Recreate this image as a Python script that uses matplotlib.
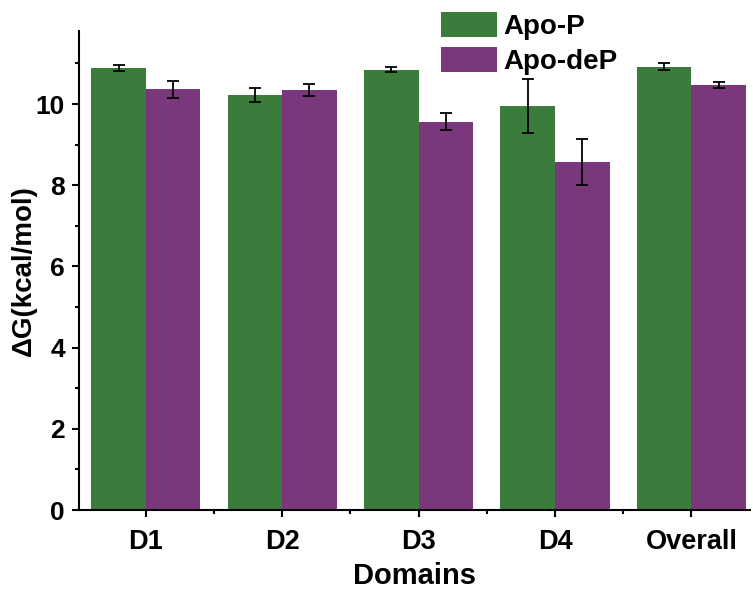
import matplotlib
matplotlib.use("Agg")
import matplotlib.pyplot as plt
import numpy as np
from matplotlib.ticker import MultipleLocator

plt.rcParams['font.family'] = ['Liberation Sans', 'DejaVu Sans']
plt.rcParams['font.weight'] = 'bold'

domains = ["D1", "D2", "D3", "D4", "Overall"]
apo_p = [10.89, 10.23, 10.85, 9.95, 10.92]
apo_p_err = [0.07, 0.17, 0.065, 0.66, 0.08]
apo_dep = [10.36, 10.34, 9.57, 8.57, 10.47]
apo_dep_err = [0.21, 0.15, 0.20, 0.57, 0.065]

green = "#3b7b3b"
purple = "#7a377b"

fig = plt.figure(figsize=(7.53, 5.89), dpi=100)
ax = fig.add_axes([79/753, 1-510/589, (750-79)/753, (510-31)/589])

x = np.arange(len(domains))
w = 0.4
err_kw = dict(ecolor="black", elinewidth=1.3, capsize=4, capthick=1.3)
ax.bar(x - w/2, apo_p, w, yerr=apo_p_err, color=green, label="Apo-P", error_kw=err_kw)
ax.bar(x + w/2, apo_dep, w, yerr=apo_dep_err, color=purple, label="Apo-deP", error_kw=err_kw)

ax.set_xlim(-0.49, 4.43)
ax.set_ylim(0, 11.8)
ax.set_xticks(x)
ax.set_xticklabels(domains)
ax.xaxis.set_minor_locator(MultipleLocator(1, offset=0.5))
ax.yaxis.set_major_locator(MultipleLocator(2))
ax.yaxis.set_minor_locator(MultipleLocator(1))
ax.tick_params(which="major", length=5, width=1.5)
ax.tick_params(axis="x", which="major", pad=9, labelsize=19.5)
ax.tick_params(axis="y", which="major", pad=5, labelsize=19)
ax.tick_params(which="minor", length=3, width=1.5)

for s in ["top", "right"]:
    ax.spines[s].set_visible(False)
for s in ["left", "bottom"]:
    ax.spines[s].set_linewidth(1.5)

ax.set_xlabel("Domains", fontsize=21, fontweight="bold", labelpad=5)
ax.set_ylabel("ΔG(kcal/mol)", fontsize=20, fontweight="bold")
ax.yaxis.set_label_coords(-0.063, 0.5)

fig.legend(loc="upper left", bbox_to_anchor=(441/753, 1-12/589), frameon=False,
           fontsize=20, handlelength=2.0, handleheight=1.0, labelspacing=0.25,
           handletextpad=0.25, borderpad=0, borderaxespad=0)

fig.savefig("out.png", dpi=100)
